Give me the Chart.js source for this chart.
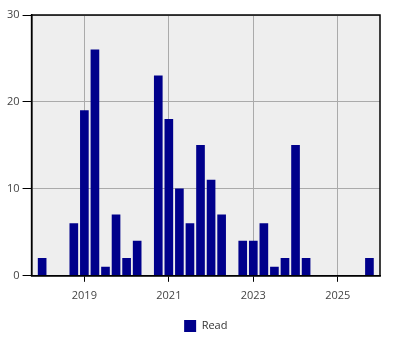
<!DOCTYPE html>
<html><head><meta charset="utf-8">
<script src="https://cdn.jsdelivr.net/npm/chart.js@4/dist/chart.umd.min.js"></script>
<style>html,body{margin:0;padding:0;background:#fff}#wrap{width:400px;height:350px}</style>
</head><body><div id="wrap"><canvas id="c" width="400" height="350"></canvas></div>
<script>
const quarters = ["2018-Q1","2018-Q2","2018-Q3","2018-Q4","2019-Q1","2019-Q2","2019-Q3","2019-Q4",
  "2020-Q1","2020-Q2","2020-Q3","2020-Q4","2021-Q1","2021-Q2","2021-Q3","2021-Q4",
  "2022-Q1","2022-Q2","2022-Q3","2022-Q4","2023-Q1","2023-Q2","2023-Q3","2023-Q4",
  "2024-Q1","2024-Q2","2024-Q3","2024-Q4","2025-Q1","2025-Q2","2025-Q3","2025-Q4"];
const readCounts = [2,0,0,6,19,26,1,7, 2,4,0,23,18,10,6,15, 11,7,0,4,4,6,1,2, 15,2,0,0,0,0,0,2];
const xTickYears = [2019,2021,2023,2025];
const seriesName = "Read";

function qToYear(q){ const [y,qq]=q.split("-Q"); return +y + (+qq-1)/4; }
const points = quarters.map((q,i)=>({x:qToYear(q), y:readCounts[i]}));

const bgPlugin = {
  id:'bg',
  afterLayout(chart){
    // centre the legend under the plot area
    const l = chart.legend, a = chart.chartArea;
    if (l) { const d = (a.left + a.right)/2 - (l.left + l.right)/2; l.left += d; l.right += d; }
  },
  beforeDraw(chart){ const {ctx, chartArea:a}=chart; ctx.save(); ctx.fillStyle='#eeeeee'; ctx.fillRect(a.left,a.top,a.right-a.left,a.bottom-a.top); ctx.restore(); },
  afterDraw(chart){ const {ctx, chartArea:a}=chart; ctx.save(); ctx.strokeStyle='#000'; ctx.lineWidth=1.5; ctx.strokeRect(a.left,a.top,a.right-a.left,a.bottom-a.top); ctx.restore(); }
};

new Chart(document.getElementById('c'), {
  type:'bar',
  data:{ datasets:[{ label:seriesName, data:points, backgroundColor:'#00008b', borderWidth:0, barThickness:8 }]},
  options:{
    responsive:false, animation:false,
    layout:{padding:{top:15,right:20,left:4,bottom:8}},
    plugins:{ legend:{ position:'bottom', labels:{ boxWidth:12, boxHeight:12, color:'#333', font:{family:'Open Sans', size:11}, padding:11 } }, tooltip:{enabled:false} },
    scales:{
      x:{ type:'linear', min:2017.75, max:2026.0, offset:false,
          afterBuildTicks(s){ s.ticks = xTickYears.map(v=>({value:v})); },
          ticks:{ callback:v=>String(v), color:'#444', font:{family:'Open Sans', size:11}, padding:7, maxRotation:0 },
          grid:{ offset:false, color:'#aaaaaa', tickColor:'#000', tickLength:6, lineWidth:1 },
          border:{ color:'#000', width:1.5 } },
      y:{ min:0, max:30, ticks:{ stepSize:10, color:'#444', font:{family:'Open Sans', size:11}, padding:3 },
          grid:{ color:'#aaaaaa', tickColor:'#000', tickLength:9 },
          border:{ color:'#000', width:1.5 } }
    }
  },
  plugins:[bgPlugin]
});
</script></body></html>
